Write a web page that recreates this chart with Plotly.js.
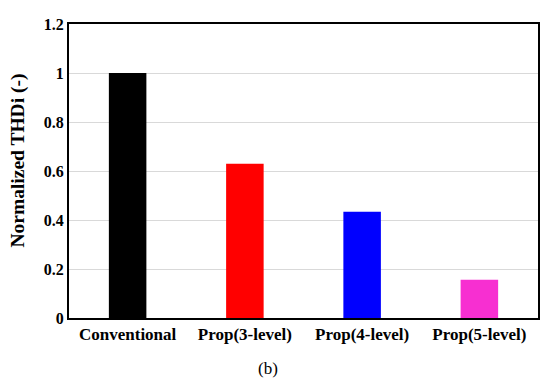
<!DOCTYPE html>
<html>
<head>
<meta charset="utf-8">
<script src="https://cdn.plot.ly/plotly-3.0.1.min.js"></script>
<style>html,body{margin:0;padding:0;background:#fff;}#chart{width:550px;height:379px;}</style>
</head>
<body>
<div id="chart"></div>
<script>
const categories = ["Conventional", "Prop(3-level)", "Prop(4-level)", "Prop(5-level)"];
const values = [1.0, 0.63, 0.434, 0.156];
const barColors = ["#000000", "#ff0000", "#0000ff", "#f72fd1"];
const yTicks = [0, 0.2, 0.4, 0.6, 0.8, 1, 1.2];
const yTickLabels = ["0", "0.2", "0.4", "0.6", "0.8", "1", "1.2"];
const yTitle = "Normalized THDi (-)";
const caption = "(b)";

const serif = "'Liberation Serif', 'Times New Roman', serif";

Plotly.newPlot("chart", [{
  type: "bar",
  x: categories,
  y: values,
  marker: {color: barColors, line: {width: 0}},
  hoverinfo: "none"
}], {
  width: 550, height: 379,
  margin: {l: 69, r: 12, t: 24, b: 61},
  paper_bgcolor: "#fff",
  plot_bgcolor: "#fff",
  bargap: 0.68,
  showlegend: false,
  font: {family: serif, color: "#000"},
  xaxis: {
    tickfont: {family: serif, size: 17, color: "#000", weight: "bold"},
    showline: true, linecolor: "#000", linewidth: 2, mirror: true,
    ticks: "", showgrid: false
  },
  yaxis: {
    range: [0, 1.2],
    tickvals: yTicks, ticktext: yTickLabels,
    tickfont: {family: serif, size: 16, color: "#000", weight: "bold"},
    showline: true, linecolor: "#000", linewidth: 2, mirror: true,
    ticks: "", showgrid: true, gridcolor: "#d9d9d9", gridwidth: 1,
    zeroline: false
  },
  annotations: [{
    text: yTitle, xref: "paper", yref: "paper", x: -0.109, y: 0.535,
    xanchor: "center", yanchor: "middle", textangle: -90, showarrow: false,
    font: {family: serif, size: 19.5, color: "#000", weight: "bold"}
  }, {
    text: caption, xref: "paper", yref: "paper", x: 0.425, y: -0.172,
    xanchor: "center", yanchor: "middle", showarrow: false,
    font: {family: serif, size: 17, color: "#000"}
  }]
}, {staticPlot: true});
</script>
</body>
</html>
